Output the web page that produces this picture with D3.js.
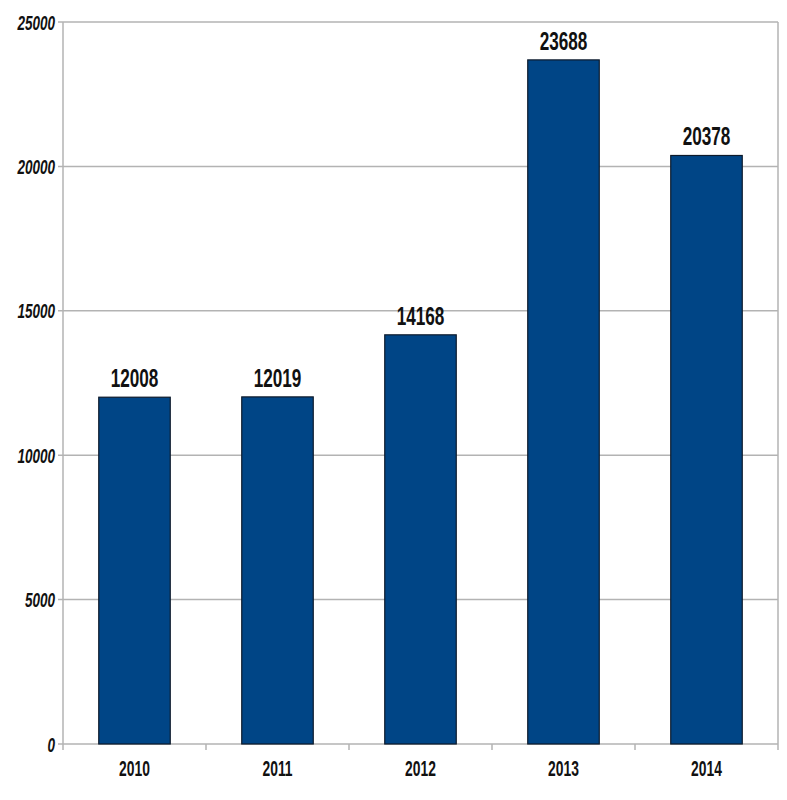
<!DOCTYPE html>
<html>
<head>
<meta charset="utf-8">
<script src="https://cdn.jsdelivr.net/npm/d3@7"></script>
<style>
  body { margin: 0; background: #fff; }
  text { font-family: "Liberation Sans", Arial, sans-serif; font-weight: bold; fill: #111; }
</style>
</head>
<body>
<div id="chart"></div>
<script>
// values
var years = ["2010", "2011", "2012", "2013", "2014"];
var counts = [12008, 12019, 14168, 23688, 20378];
var yTicks = [0, 5000, 10000, 15000, 20000, 25000];

var margin = { top: 22, right: 9, bottom: 56, left: 63 },
    width = 787 - margin.left - margin.right,
    height = 800 - margin.top - margin.bottom;

var svg = d3.select("#chart").append("svg")
    .attr("width", 787)
    .attr("height", 800)
    .append("g")
    .attr("transform", "translate(" + margin.left + "," + margin.top + ")");

var x = d3.scaleBand()
    .domain(years)
    .range([0, width])
    .paddingInner(0.5)
    .paddingOuter(0.25);

var y = d3.scaleLinear()
    .domain([0, 25000])
    .range([height, 0]);

// squeezed glyphs, like the condensed font in the original
var squeeze = 0.66;

// grid lines
svg.selectAll("line.grid")
    .data(yTicks)
    .enter().append("line")
    .attr("class", "grid")
    .attr("x1", -5)
    .attr("x2", width)
    .attr("y1", function(d) { return y(d); })
    .attr("y2", function(d) { return y(d); })
    .attr("stroke", "#b3b3b3")
    .attr("stroke-width", 1.5);

// left and right borders
[0, width].forEach(function(px) {
    svg.append("line")
        .attr("x1", px).attr("x2", px)
        .attr("y1", 0).attr("y2", height + 6)
        .attr("stroke", "#b3b3b3")
        .attr("stroke-width", 1.5);
});

// category boundary ticks
var step = x.step();
svg.selectAll("line.xtick")
    .data(years.slice(1))
    .enter().append("line")
    .attr("class", "xtick")
    .attr("x1", function(d) { return x(d) - step * 0.25; })
    .attr("x2", function(d) { return x(d) - step * 0.25; })
    .attr("y1", height)
    .attr("y2", height + 6)
    .attr("stroke", "#b3b3b3")
    .attr("stroke-width", 1.5);

// y labels
svg.selectAll("text.ylab")
    .data(yTicks)
    .enter().append("text")
    .attr("class", "ylab")
    .attr("text-anchor", "end")
    .attr("font-style", "italic")
    .attr("font-size", 20.5)
    .attr("transform", function(d) { return "translate(-8," + (y(d) + 7.5) + ") scale(" + squeeze + ",1)"; })
    .text(function(d) { return d; });

// bars
svg.selectAll("rect.bar")
    .data(counts)
    .enter().append("rect")
    .attr("class", "bar")
    .attr("x", function(d, i) { return x(years[i]); })
    .attr("width", x.bandwidth())
    .attr("y", function(d) { return y(d); })
    .attr("height", function(d) { return height - y(d); })
    .attr("fill", "#004586")
    .attr("stroke", "#0d1a2b")
    .attr("stroke-width", 1.2);

// value labels
svg.selectAll("text.val")
    .data(counts)
    .enter().append("text")
    .attr("class", "val")
    .attr("text-anchor", "middle")
    .attr("font-size", 26)
    .attr("transform", function(d, i) {
        return "translate(" + (x(years[i]) + x.bandwidth() / 2) + "," + (y(d) - 10) + ") scale(" + squeeze + ",1)";
    })
    .text(function(d) { return d; });

// x labels
svg.selectAll("text.xlab")
    .data(years)
    .enter().append("text")
    .attr("class", "xlab")
    .attr("text-anchor", "middle")
    .attr("font-size", 22)
    .attr("transform", function(d) {
        return "translate(" + (x(d) + x.bandwidth() / 2) + "," + (height + 32) + ") scale(0.63,1)";
    })
    .text(function(d) { return d; });
</script>
</body>
</html>
